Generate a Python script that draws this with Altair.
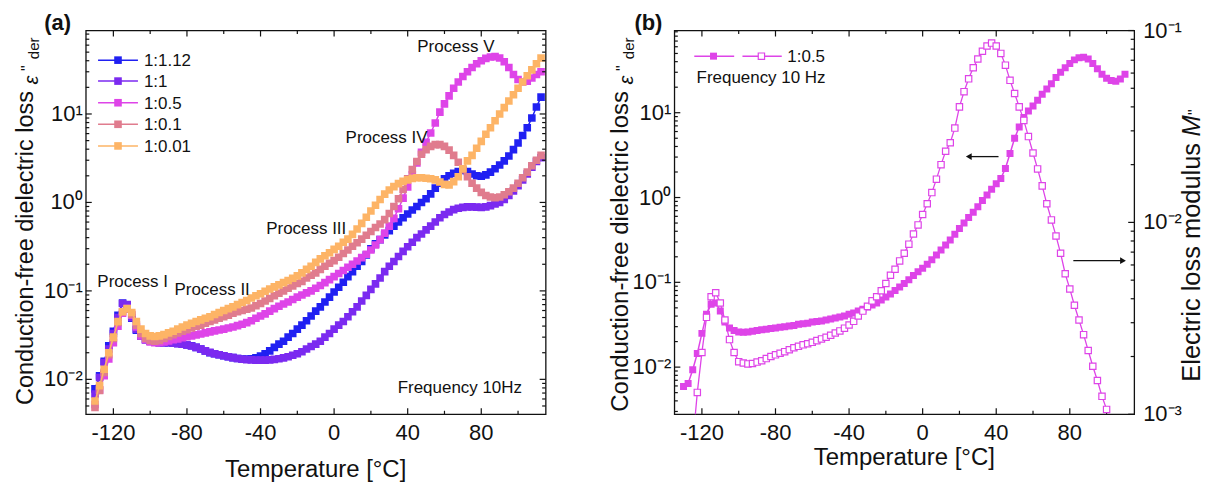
import altair as alt
import pandas as pd

# ---------------- data ----------------
TEMPS = [
    -130.0, -127.5, -125.0, -122.5, -120.0, -117.5, -115.0, -112.5, -110.0, -107.5,
    -105.0, -102.5, -100.0, -97.5, -95.0, -92.5, -90.0, -87.5, -85.0, -82.5,
    -80.0, -77.5, -75.0, -72.5, -70.0, -67.5, -65.0, -62.5, -60.0, -57.5,
    -55.0, -52.5, -50.0, -47.5, -45.0, -42.5, -40.0, -37.5, -35.0, -32.5,
    -30.0, -27.5, -25.0, -22.5, -20.0, -17.5, -15.0, -12.5, -10.0, -7.5,
    -5.0, -2.5, 0.0, 2.5, 5.0, 7.5, 10.0, 12.5, 15.0, 17.5,
    20.0, 22.5, 25.0, 27.5, 30.0, 32.5, 35.0, 37.5, 40.0, 42.5,
    45.0, 47.5, 50.0, 52.5, 55.0, 57.5, 60.0, 62.5, 65.0, 67.5,
    70.0, 72.5, 75.0, 77.5, 80.0, 82.5, 85.0, 87.5, 90.0, 92.5,
    95.0, 97.5, 100.0, 102.5, 105.0, 107.5, 110.0, 112.5,
]

SERIES = ["1:1.12", "1:1", "1:0.5", "1:0.1", "1:0.01"]
COLORS = ["#2020F2", "#7B2AF0", "#DE44E8", "#E07C8E", "#FDB466"]

EPS_1_112 = [
    0.0078, 0.011, 0.016, 0.024, 0.035, 0.053, 0.073, 0.069, 0.049, 0.036,
    0.031, 0.028, 0.027, 0.0265, 0.026, 0.026, 0.026, 0.0258, 0.0255, 0.025,
    0.0245, 0.024, 0.023, 0.022, 0.021, 0.020, 0.0195, 0.019, 0.0185, 0.018,
    0.0176, 0.0172, 0.0170, 0.0170, 0.0171, 0.0175, 0.0183, 0.0195, 0.021, 0.023,
    0.025, 0.027, 0.030, 0.033, 0.037, 0.041, 0.046, 0.052, 0.059, 0.066,
    0.075, 0.085, 0.097, 0.11, 0.125, 0.145, 0.165, 0.19, 0.215, 0.255,
    0.30, 0.34, 0.38, 0.43, 0.48, 0.54, 0.60, 0.67, 0.74, 0.82,
    0.90, 1.0, 1.1, 1.25, 1.45, 1.65, 1.85, 2.0, 2.13, 2.24,
    2.3, 2.24, 2.1, 2.0, 1.98, 2.05, 2.2, 2.4, 2.65, 2.95,
    3.35, 3.95, 4.7, 5.7, 7.0, 9.0, 12.0, 15.5,
]
EPS_1_1 = [
    0.0068, 0.0105, 0.0155, 0.022, 0.033, 0.05, 0.072, 0.07, 0.05, 0.037,
    0.031, 0.028, 0.027, 0.0265, 0.026, 0.026, 0.026, 0.0257, 0.0253, 0.025,
    0.0245, 0.0238, 0.023, 0.022, 0.021, 0.0202, 0.0195, 0.019, 0.0185, 0.018,
    0.0176, 0.0172, 0.0169, 0.0167, 0.0166, 0.0165, 0.0165, 0.0165, 0.0166, 0.0168,
    0.0171, 0.0175, 0.018, 0.0187, 0.0195, 0.0205, 0.022, 0.0235, 0.025, 0.027,
    0.030, 0.033, 0.037, 0.041, 0.045, 0.051, 0.058, 0.066, 0.077, 0.089,
    0.104, 0.12, 0.14, 0.165, 0.19, 0.215, 0.245, 0.28, 0.315, 0.355,
    0.40, 0.44, 0.49, 0.54, 0.60, 0.67, 0.73, 0.78, 0.83, 0.86,
    0.88, 0.89, 0.89, 0.885, 0.88, 0.89, 0.92, 0.96, 1.0, 1.08,
    1.2, 1.35, 1.55, 1.8, 2.1, 2.5, 2.9, 3.2,
]
EPS_1_05 = [
    0.0052, 0.0076, 0.011, 0.017, 0.026, 0.04, 0.056, 0.063, 0.053, 0.039,
    0.031, 0.028, 0.0265, 0.026, 0.026, 0.0265, 0.0272, 0.028, 0.0287, 0.0295,
    0.0303, 0.031, 0.0318, 0.0326, 0.0335, 0.0344, 0.0353, 0.0362, 0.037, 0.038,
    0.039, 0.0405, 0.042, 0.0438, 0.046, 0.049, 0.052, 0.055, 0.059, 0.063,
    0.067, 0.071, 0.075, 0.08, 0.085, 0.09, 0.095, 0.1, 0.107, 0.115,
    0.124, 0.134, 0.145, 0.157, 0.17, 0.185, 0.2, 0.218, 0.238, 0.26,
    0.29, 0.33, 0.38, 0.45, 0.54, 0.66, 0.85, 1.12, 1.5, 2.05,
    2.8, 3.7, 4.8, 6.1, 7.9, 10.5, 13.0, 16.0, 19.5, 23.0,
    26.5, 30.0, 33.5, 37.0, 40.0, 42.5, 44.0, 44.5, 43.0, 39.0,
    33.5, 28.0, 24.5, 23.0, 23.5, 25.5, 28.0, 30.0,
]
EPS_1_01 = [
    0.0048, 0.0075, 0.012, 0.019, 0.029, 0.044, 0.058, 0.062, 0.054, 0.041,
    0.033, 0.029, 0.0275, 0.027, 0.0275, 0.029, 0.0305, 0.032, 0.0335, 0.035,
    0.0365, 0.038, 0.04, 0.041, 0.043, 0.045, 0.047, 0.049, 0.051, 0.053,
    0.056, 0.058, 0.06, 0.062, 0.064, 0.068, 0.072, 0.077, 0.082, 0.088,
    0.094, 0.1, 0.107, 0.114, 0.121, 0.128, 0.14, 0.15, 0.16, 0.175,
    0.19, 0.205, 0.22, 0.24, 0.265, 0.29, 0.32, 0.35, 0.385, 0.425,
    0.47, 0.52, 0.57, 0.64, 0.75, 0.9, 1.1, 1.4, 1.85, 2.35,
    2.9, 3.5, 3.95, 4.3, 4.5, 4.5, 4.3, 3.9, 3.4, 2.85,
    2.35, 1.95, 1.65, 1.45, 1.3, 1.2, 1.15, 1.13, 1.15, 1.22,
    1.32, 1.45, 1.65, 1.9, 2.2, 2.6, 3.0, 3.4,
]
EPS_1_001 = [
    0.0057, 0.0085, 0.013, 0.02, 0.03, 0.045, 0.058, 0.063, 0.057, 0.045,
    0.037, 0.033, 0.031, 0.0305, 0.031, 0.032, 0.0335, 0.035, 0.037, 0.039,
    0.041, 0.043, 0.045, 0.047, 0.049, 0.051, 0.054, 0.057, 0.06, 0.063,
    0.066, 0.07, 0.074, 0.078, 0.083, 0.088, 0.093, 0.099, 0.105, 0.111,
    0.117, 0.124, 0.131, 0.139, 0.148, 0.16, 0.175, 0.19, 0.21, 0.23,
    0.25, 0.27, 0.295, 0.32, 0.355, 0.385, 0.435, 0.5, 0.58, 0.68,
    0.8, 0.93, 1.08, 1.24, 1.38, 1.51, 1.63, 1.73, 1.8, 1.87,
    1.9, 1.9, 1.88, 1.85, 1.8, 1.7, 1.6, 1.58, 1.72, 1.95,
    2.4, 2.95, 3.4, 4.1, 4.9, 5.9, 7.0, 8.4, 10.0, 11.8,
    14.0, 16.5, 19.5, 23.0, 27.0, 31.5, 37.0, 43.0,
]
EPS_A = [EPS_1_112, EPS_1_1, EPS_1_05, EPS_1_01, EPS_1_001]

# panel (b): 1:0.5, -130 ... 110 degC (eps'' der, left axis)
EPS_B = [
    0.0059, 0.0064, 0.0093, 0.0145, 0.025, 0.042, 0.055, 0.057, 0.046, 0.034,
    0.029, 0.027, 0.026, 0.0258, 0.026, 0.0265, 0.027, 0.0275, 0.028, 0.0285,
    0.029, 0.0295, 0.03, 0.0305, 0.031, 0.032, 0.0325, 0.033, 0.034, 0.0345,
    0.035, 0.036, 0.037, 0.038, 0.039, 0.040, 0.042, 0.0435, 0.046, 0.048,
    0.051, 0.054, 0.057, 0.062, 0.067, 0.073, 0.08, 0.088, 0.097, 0.107,
    0.12, 0.133, 0.147, 0.163, 0.185, 0.21, 0.24, 0.275, 0.315, 0.37,
    0.43, 0.5, 0.58, 0.67, 0.78, 0.92, 1.07, 1.25, 1.45, 1.68,
    2.2, 3.3, 5.0, 6.8, 8.8, 10.5, 12.0, 14.0, 16.5, 19.0,
    22.0, 26.0, 30.0, 34.0, 38.0, 42.0, 44.5, 45.0, 43.0, 38.0,
    33.0, 28.5, 25.5, 24.0, 23.5, 25.0, 28.5,
]
# panel (b): 1:0.5, -125 ... 100 degC (M'', right axis)
MOD_B = [
    0.0007, 0.0013, 0.0021, 0.0032, 0.0041, 0.0043, 0.0038, 0.0031, 0.00245, 0.0021,
    0.00188, 0.00185, 0.00183, 0.00184, 0.00187, 0.0019, 0.00195, 0.002, 0.00204, 0.00208,
    0.00212, 0.00217, 0.00222, 0.00226, 0.0023, 0.00233, 0.00237, 0.00242, 0.00247, 0.00252,
    0.00258, 0.00265, 0.00272, 0.00281, 0.00292, 0.00305, 0.00325, 0.00345, 0.00365, 0.0039,
    0.0041, 0.0044, 0.0048, 0.0053, 0.0057, 0.0063, 0.0069, 0.0077, 0.0087, 0.0097,
    0.011, 0.0125, 0.0143, 0.0168, 0.02, 0.0235, 0.026, 0.031, 0.04, 0.048,
    0.056, 0.064, 0.071, 0.078, 0.083, 0.086, 0.083, 0.076, 0.066, 0.055,
    0.047, 0.04, 0.034, 0.028, 0.023, 0.019, 0.0155, 0.0125, 0.0103, 0.0085,
    0.0069, 0.0054, 0.0045, 0.0037, 0.0031, 0.0026, 0.00215, 0.00178, 0.0015, 0.00124,
    0.00106,
]
T_B_EPS = TEMPS[:97]
T_B_MOD = TEMPS[2:93]

X_MAJOR = [-120, -80, -40, 0, 40, 80]
X_MINOR = [-100, -60, -20, 20, 60, 100]
X_LABELS = ["-120", "-80", "-40", "0", "40", "80"]
Y_MAJOR_EPS = [0.01, 0.1, 1, 10]
Y_LABELS_EPS = ["10⁻²", "10⁻¹", "10⁰", "10¹"]
Y_MAJOR_MOD = [0.001, 0.01, 0.1]
Y_LABELS_MOD = ["10⁻³", "10⁻²", "10⁻¹"]

# ---------------- layout / style ----------------
W = 461
H = 384.7
X_DOMAIN = [-135, 115]
YA_DOMAIN = [0.00403, 87.8]
YB_DOMAIN = [0.00278, 93.2]
YM_DOMAIN = [0.001, 0.1]
FONT = "Liberation Sans"
INK = "#111111"
MAG = "#DE44E8"
ONE = pd.DataFrame({"k": [0]})


def minor_log(lo, hi):
    out = []
    for k in range(-4, 3):
        for m in range(2, 10):
            v = m * 10.0 ** k
            if lo < v < hi:
                out.append(v)
    return out


XS = alt.Scale(domain=X_DOMAIN, nice=False, zero=False)


def ysc(dom):
    return alt.Scale(type="log", domain=dom, nice=False)


def xe():
    return alt.X("T:Q", scale=XS, axis=None)


def x_guides():
    """inward ticks (bottom/top) and tick labels for the temperature axis"""
    out = []
    for vals, ln in ((X_MAJOR, 6), (X_MINOR, 3.5)):
        df = pd.DataFrame({"T": vals})
        base = alt.Chart(df).mark_rule(color=INK, strokeWidth=1.2)
        out.append(base.encode(x=xe(), y=alt.value(H), y2=alt.value(H - ln)))
        out.append(base.encode(x=xe(), y=alt.value(0), y2=alt.value(ln)))
    dfl = pd.DataFrame({"T": X_MAJOR, "lab": X_LABELS})
    out.append(alt.Chart(dfl).mark_text(fontSize=22, baseline="top", align="center",
                                        color=INK, font=FONT)
               .encode(x=xe(), y=alt.value(H + 9), text="lab:N"))
    return out


def y_guides(major, labels, dom, field, sides, label_side):
    out = []
    for vals, ln in ((major, 6), (minor_log(dom[0], dom[1]), 3.5)):
        df = pd.DataFrame({field: vals})
        base = alt.Chart(df).mark_rule(color=INK, strokeWidth=1.2)
        ye = alt.Y(f"{field}:Q", scale=ysc(dom), axis=None)
        if "left" in sides:
            out.append(base.encode(y=ye, x=alt.value(0), x2=alt.value(ln)))
        if "right" in sides:
            out.append(base.encode(y=ye, x=alt.value(W), x2=alt.value(W - ln)))
    dfl = pd.DataFrame({field: major, "lab": labels})
    ye = alt.Y(f"{field}:Q", scale=ysc(dom), axis=None)
    if label_side == "left":
        out.append(alt.Chart(dfl).mark_text(fontSize=22, baseline="middle", align="right",
                                            color=INK, font=FONT)
                   .encode(y=ye, x=alt.value(-3), text="lab:N"))
    else:
        out.append(alt.Chart(dfl).mark_text(fontSize=22, baseline="middle", align="left",
                                            color=INK, font=FONT)
                   .encode(y=ye, x=alt.value(W + 9), text="lab:N"))
    return out


def label(txt, x, y, size=17, align="center", baseline="middle", angle=0,
          style="normal", weight="normal"):
    return alt.Chart(ONE).mark_text(
        text=txt, fontSize=size, align=align, baseline=baseline, angle=angle,
        fontStyle=style, fontWeight=weight, color=INK, font=FONT
    ).encode(x=alt.value(x), y=alt.value(y))


def eps_title(xb, size):
    return [
        label("Conduction-free dielectric loss", xb, 60.7, size=size, align="right",
              baseline="alphabetic", angle=270),
        label("ε", xb + 5, 54.2, size=20, align="left", baseline="alphabetic",
              angle=270, style="italic"),
        label('"', xb, 40.7, size=16, align="left", baseline="alphabetic", angle=270),
        label("der", xb + 6, 28.7, size=15, align="left", baseline="alphabetic", angle=270),
    ]


def hline(x1, x2, y, color, width=1.5):
    return alt.Chart(ONE).mark_rule(color=color, strokeWidth=width).encode(
        x=alt.value(x1), x2=alt.value(x2), y=alt.value(y))


def square(x, y, color, size, hollow=False):
    if hollow:
        m = alt.Chart(ONE).mark_point(shape="square", filled=True, fill="white",
                                      stroke=color, strokeWidth=1.2, size=size, opacity=1)
    else:
        m = alt.Chart(ONE).mark_point(shape="square", filled=True, color=color,
                                      size=size, opacity=1)
    return m.encode(x=alt.value(x), y=alt.value(y))


# ---------------- panel (a) ----------------
layers_a = []
for name, color, vals in zip(SERIES, COLORS, EPS_A):
    df = pd.DataFrame({"T": TEMPS, "v": vals, "series": name})
    ye = alt.Y("v:Q", scale=ysc(YA_DOMAIN), axis=None)
    layers_a.append(alt.Chart(df).mark_line(color=color, strokeWidth=1.5, clip=True)
                    .encode(x=xe(), y=ye))
    layers_a.append(alt.Chart(df).mark_point(shape="square", filled=True, color=color,
                                             size=58, opacity=1, clip=True)
                    .encode(x=xe(), y=ye))

layers_a += x_guides()
layers_a += y_guides(Y_MAJOR_EPS, Y_LABELS_EPS, YA_DOMAIN, "v", ("left", "right"), "left")

# legend (a)
LEG_Y = [29.7, 50.7, 72.4, 94.0, 115.7]
for name, color, ly in zip(SERIES, COLORS, LEG_Y):
    layers_a.append(hline(12.3, 52.3, ly, color))
    layers_a.append(square(32.3, ly, color, 58))
    layers_a.append(label(name, 58.3, ly + 1, size=17, align="left"))

for txt, ax, ay in [("Process V", 371, 16.7), ("Process IV", 301.5, 107.7),
                    ("Process III", 221, 198.7), ("Process I", 47, 251.7),
                    ("Process II", 126.7, 259.7), ("Frequency 10Hz", 375, 358.2)]:
    layers_a.append(label(txt, ax, ay, size=17))

layers_a += eps_title(-52.5, 23.5)
layers_a.append(label("Temperature [°C]", W / 2, H + 63, size=24, baseline="alphabetic"))
layers_a.append(label("(a)", -28.3, -0.9, size=22, weight="bold", baseline="alphabetic"))
# layout anchor (fixes the plot origin inside the page)
layers_a.append(alt.Chart(ONE).mark_rule(strokeWidth=0, opacity=0).encode(
    x=alt.value(-85), x2=alt.value(-85), y=alt.value(-29.3), y2=alt.value(-29.3)))

panel_a = alt.layer(*layers_a).properties(width=W, height=H)

# ---------------- panel (b) ----------------
df_be = pd.DataFrame({"T": T_B_EPS, "v": EPS_B})
df_bm = pd.DataFrame({"T": T_B_MOD, "m": MOD_B})
ye_b = alt.Y("v:Q", scale=ysc(YB_DOMAIN), axis=None)
ye_m = alt.Y("m:Q", scale=ysc(YM_DOMAIN), axis=None)

left_b = [
    alt.Chart(df_be).mark_line(color=MAG, strokeWidth=1.5, clip=True).encode(x=xe(), y=ye_b),
    alt.Chart(df_be).mark_point(shape="square", filled=True, color=MAG, size=49,
                                opacity=1, clip=True).encode(x=xe(), y=ye_b),
]
left_b += x_guides()
left_b += y_guides(Y_MAJOR_EPS, Y_LABELS_EPS, YB_DOMAIN, "v", ("left",), "left")
left_b += eps_title(-46.7, 24)
left_b.append(label("Temperature [°C]", W / 2, H + 51, size=24, baseline="alphabetic"))
left_b.append(label("(b)", -26, -0.9, size=22, weight="bold", baseline="alphabetic"))
# legend (b)
left_b.append(hline(20, 60, 25.7, MAG))
left_b.append(square(39.3, 25.7, MAG, 49))
left_b.append(hline(68.3, 107.7, 25.7, MAG))
left_b.append(square(87.3, 25.7, MAG, 40, hollow=True))
left_b.append(label("1:0.5", 113.3, 26.7, size=17, align="left"))
left_b.append(label("Frequency 10 Hz", 22.3, 47.2, size=17, align="left"))
# arrows
left_b.append(hline(295, 325, 126.4, INK, 1.3))
left_b.append(alt.Chart(ONE).mark_point(shape="triangle-left", filled=True, color=INK,
                                        size=45, opacity=1)
              .encode(x=alt.value(295.2), y=alt.value(126.4)))
left_b.append(hline(400, 450, 230.7, INK, 1.3))
left_b.append(alt.Chart(ONE).mark_point(shape="triangle-right", filled=True, color=INK,
                                        size=45, opacity=1)
              .encode(x=alt.value(449.8), y=alt.value(230.7)))
# right axis title
left_b.append(label("Electric loss modulus", 527, 112.7, size=25.5, align="right",
                    baseline="alphabetic", angle=270))
left_b.append(label("M", 527, 106.2, size=25.5, align="left", baseline="alphabetic",
                    angle=270, style="italic"))
left_b.append(label('"', 527, 84.7, size=16, align="left", baseline="alphabetic",
                    angle=270))

right_b = [
    alt.Chart(df_bm).mark_line(color=MAG, strokeWidth=1.3, clip=True).encode(x=xe(), y=ye_m),
    alt.Chart(df_bm).mark_point(shape="square", filled=True, fill="white", stroke=MAG,
                                strokeWidth=1.2, size=40, opacity=1, clip=True)
    .encode(x=xe(), y=ye_m),
]
right_b += y_guides(Y_MAJOR_MOD, Y_LABELS_MOD, YM_DOMAIN, "m", ("right",), "right")

panel_b = alt.layer(alt.layer(*left_b), alt.layer(*right_b)).resolve_scale(
    y="independent").properties(width=W, height=H)

chart = alt.hconcat(panel_a, panel_b, spacing=129, bounds="flush").properties(
    padding=0
).configure(font=FONT).configure_view(stroke=INK, strokeWidth=1.3)

chart.save("out.html", embed_options={"renderer": "svg", "actions": False})
